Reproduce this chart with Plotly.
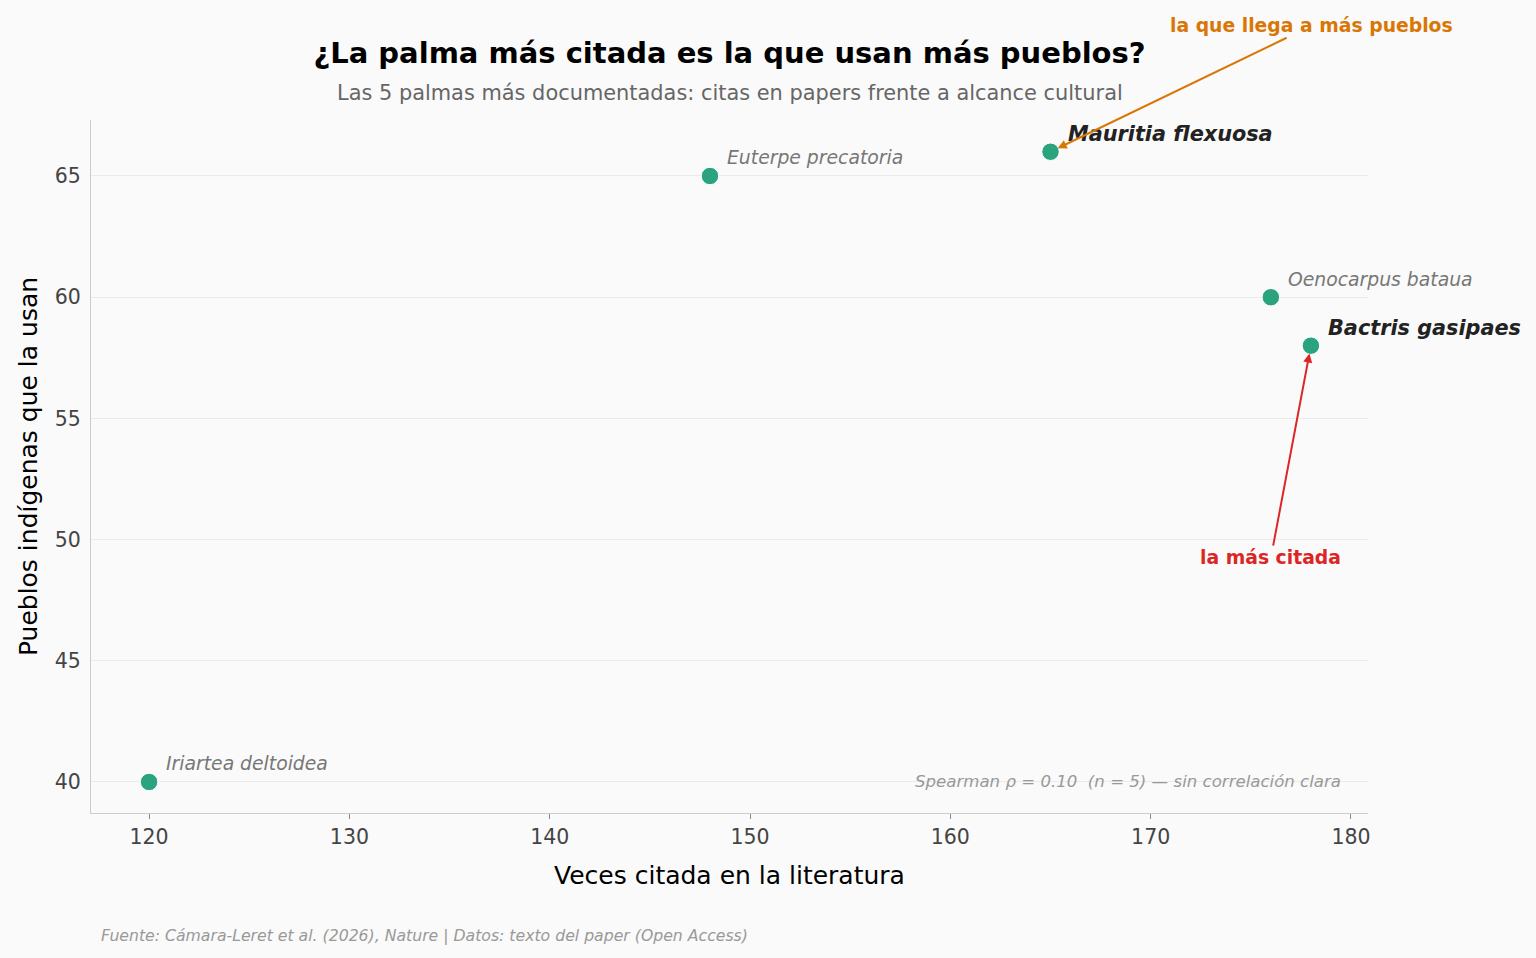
import plotly.graph_objects as go

species = ["Iriartea deltoidea", "Euterpe precatoria", "Mauritia flexuosa", "Oenocarpus bataua", "Bactris gasipaes"]
citations = [120, 148, 165, 176, 178]
peoples = [40, 65, 66, 60, 58]
highlight = [False, False, True, False, True]

x_ticks = [120, 130, 140, 150, 160, 170, 180]
y_ticks = [40, 45, 50, 55, 60, 65]

FONT = "DejaVu Sans"
GREEN = "#2ba37e"
ORANGE = "#d97706"
RED = "#dc2626"

W, H = 1536, 958
L, R, T, B = 91, 168, 120, 145
PW, PH = W - L - R, H - T - B


def px(xpix):
    return (xpix - L) / PW


def py(ypix_from_top):
    return (H - ypix_from_top - B) / PH


fig = go.Figure()
fig.add_trace(go.Scatter(
    x=citations, y=peoples, mode="markers",
    marker=dict(size=17.5, color=GREEN, line=dict(color="#ffffff", width=1)),
    hoverinfo="text", text=species, showlegend=False, cliponaxis=False,
))

annotations = []
for name, cx, cy, hl in zip(species, citations, peoples, highlight):
    annotations.append(dict(
        x=cx, y=cy, xref="x", yref="y", text=f"<b><i>{name}</i></b>" if hl else f"<i>{name}</i>",
        showarrow=False, xanchor="left", yanchor="middle", xshift=15, yshift=18,
        font=dict(family=FONT, size=20.8 if hl else 18.8, color="#222222" if hl else "#777777"),
    ))

# arrow annotations
annotations.append(dict(
    x=citations[2], y=peoples[2], xref="x", yref="y",
    text="<b>la que llega a más pueblos</b>", showarrow=True,
    ax=261, ay=-126, axref="pixel", ayref="pixel",
    arrowhead=2, arrowsize=0.9, arrowwidth=2, arrowcolor=ORANGE, standoff=8,
    font=dict(family=FONT, size=18.8, color=ORANGE),
))
annotations.append(dict(
    x=citations[4], y=peoples[4], xref="x", yref="y",
    text="<b>la más citada</b>", showarrow=True,
    ax=-40, ay=212, axref="pixel", ayref="pixel",
    arrowhead=2, arrowsize=0.9, arrowwidth=2, arrowcolor=RED, standoff=8,
    font=dict(family=FONT, size=18.8, color=RED),
))

annotations.append(dict(
    x=px(1343), y=40, xref="paper", yref="y", xanchor="right", yanchor="middle",
    text="<i>Spearman ρ = 0.10  (n = 5) — sin correlación clara</i>", showarrow=False,
    font=dict(family=FONT, size=16.6, color="#999999"),
))
annotations.append(dict(
    x=px(99), y=py(935), xref="paper", yref="paper", xanchor="left", yanchor="middle",
    text="<i>Fuente: Cámara-Leret et al. (2026), Nature | Datos: texto del paper (Open Access)</i>",
    showarrow=False, font=dict(family=FONT, size=15.7, color="#999999"),
))
annotations.append(dict(
    x=0.5, y=py(93), xref="paper", yref="paper", xanchor="center", yanchor="middle",
    text="Las 5 palmas más documentadas: citas en papers frente a alcance cultural",
    showarrow=False, font=dict(family=FONT, size=20.9, color="#666666"),
))

fig.update_layout(
    width=W, height=H,
    margin=dict(l=L, r=R, t=T, b=B),
    paper_bgcolor="#fafafa", plot_bgcolor="#fafafa",
    font=dict(family=FONT, color="#444444"),
    title=dict(text="<b>¿La palma más citada es la que usan más pueblos?</b>",
               x=729.5 / W, xanchor="center", y=(H - 53) / H, yanchor="middle",
               font=dict(family=FONT, size=29, color="#000000")),
    annotations=annotations,
    xaxis=dict(
        range=[117.1, 180.85], tickvals=x_ticks, ticktext=[str(v) for v in x_ticks],
        showgrid=False, zeroline=False, showline=True, linecolor="#cccccc", linewidth=1,
        ticks="outside", ticklen=5, tickcolor="#888888", tickwidth=1,
        tickfont=dict(size=20.5, color="#444444"),
        title=dict(text="Veces citada en la literatura", font=dict(size=25, color="#000000"), standoff=18),
    ),
    yaxis=dict(
        range=[38.72, 67.31], tickvals=y_ticks, ticktext=[str(v) for v in y_ticks],
        showgrid=True, gridcolor="#ebebeb", gridwidth=1, zeroline=False,
        showline=True, linecolor="#cccccc", linewidth=1,
        ticks="outside", ticklen=5, tickcolor="rgba(0,0,0,0)",
        tickfont=dict(size=20.5, color="#444444"),
        title=dict(text="Pueblos indígenas que la usan", font=dict(size=25, color="#000000"), standoff=10),
    ),
)

fig.write_html("out.html")
